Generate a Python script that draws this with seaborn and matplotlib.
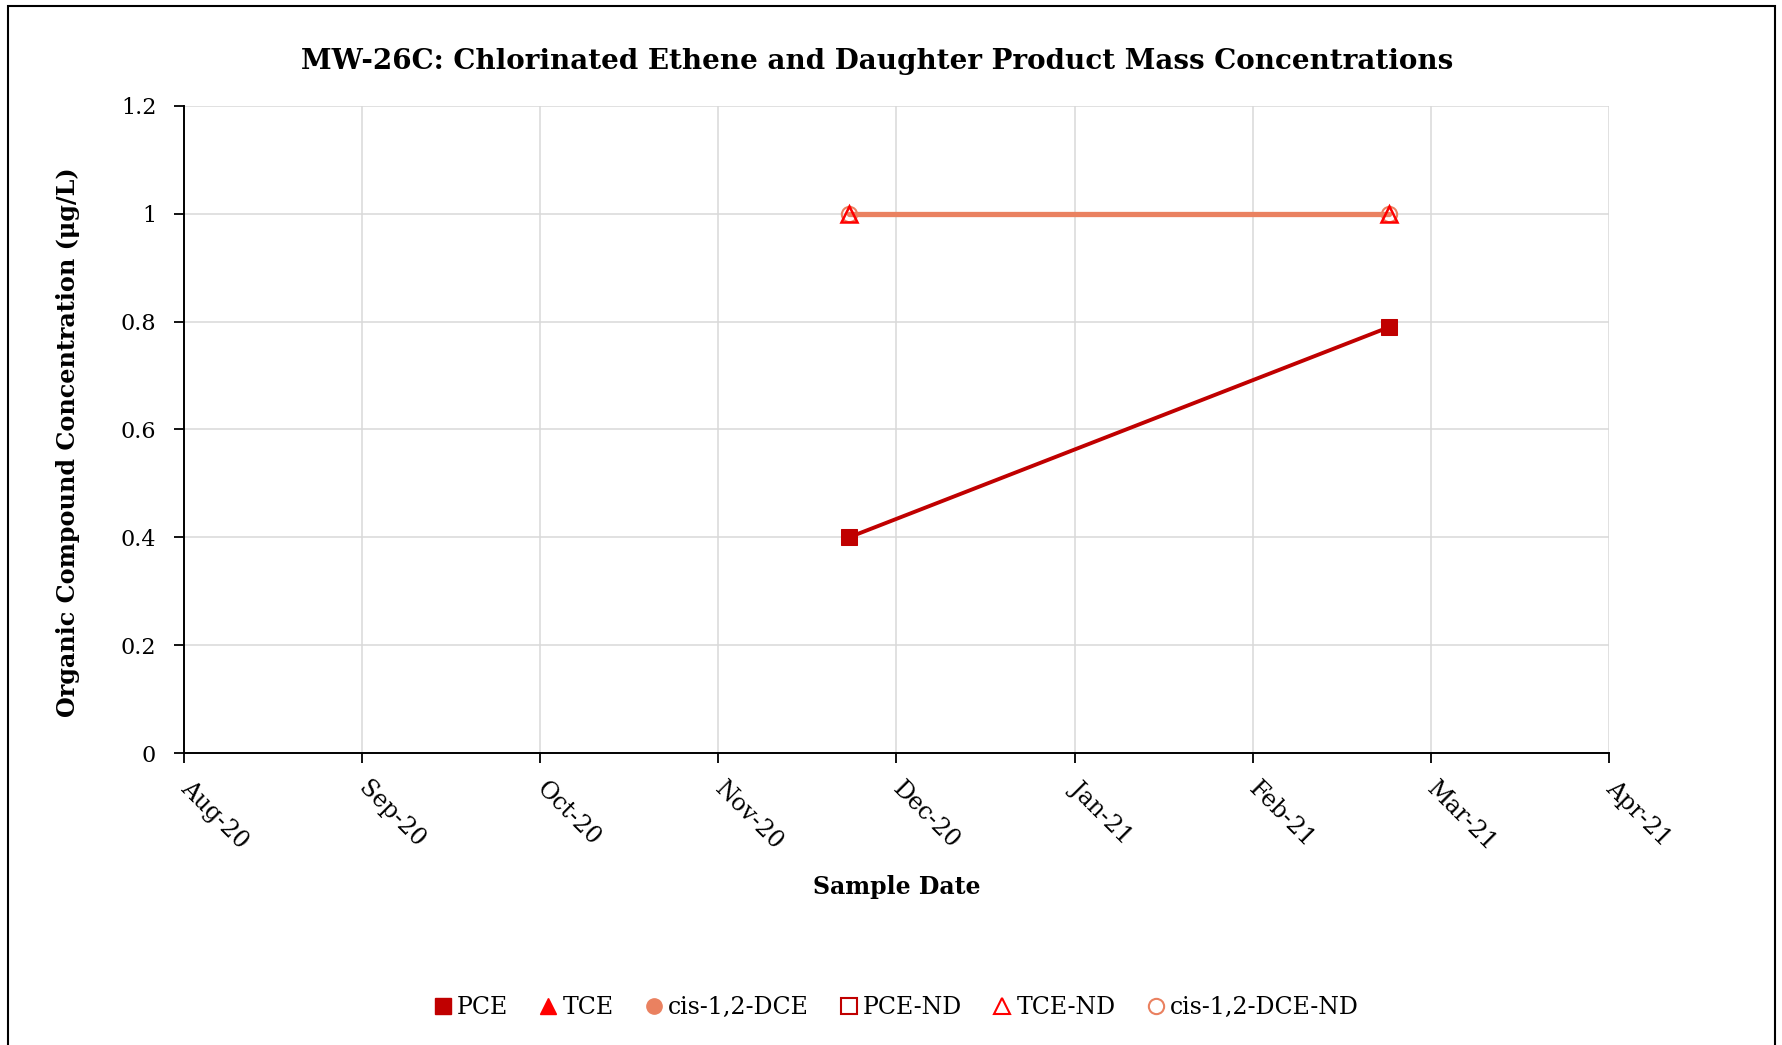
import matplotlib
matplotlib.use("Agg")
import matplotlib.dates as mdates
import matplotlib.pyplot as plt
import pandas as pd
import seaborn as sns
from matplotlib.lines import Line2D
from matplotlib.patches import Rectangle

# ---------------------------------------------------------------------------
# data
# ---------------------------------------------------------------------------
sample_dates = ["2020-11-30", "2021-03-01"]
pce = [0.40, 0.79]
tce_nd = [1.0, 1.0]
dce_nd = [1.0, 1.0]

axis_start = "2020-08-10"      # Excel date axis, major unit 30 days
axis_step_days = 30
n_xticks = 9
y_ticks = [0, 0.2, 0.4, 0.6, 0.8, 1.0, 1.2]
y_tick_labels = ["0", "0.2", "0.4", "0.6", "0.8", "1", "1.2"]

legend_labels = ["PCE", "TCE", "cis-1,2-DCE", "PCE-ND", "TCE-ND", "cis-1,2-DCE-ND"]

C_PCE = "#C00000"
C_TCE = "#FF0000"
C_DCE = "#EA8160"

sns.set_theme(style="whitegrid")
plt.rcParams["font.family"] = ["DejaVu Serif", "DejaVu Sans"]
plt.rcParams["text.color"] = "black"

df = pd.DataFrame({
    "date": pd.to_datetime(sample_dates),
    "PCE": pce,
    "TCE-ND": tce_nd,
    "cis-1,2-DCE-ND": dce_nd,
})

fig = plt.figure(figsize=(17.83, 10.45), dpi=100)
ax = fig.add_axes([0.1032, 0.2794, 0.7992, 0.6192])

# lines
sns.lineplot(data=df, x="date", y="TCE-ND", ax=ax, color=C_TCE, lw=2, zorder=2)
sns.lineplot(data=df, x="date", y="cis-1,2-DCE-ND", ax=ax, color=C_DCE, lw=3.8,
             marker="o", markersize=11, mfc="none", mec=C_DCE, mew=1.5, zorder=3)
sns.lineplot(data=df, x="date", y="PCE", ax=ax, color=C_PCE, lw=2.8,
             marker="s", markersize=12, mfc=C_PCE, mec=C_PCE, zorder=4)
# TCE-ND markers sit on top of the orange line
sns.lineplot(data=df, x="date", y="TCE-ND", ax=ax, color=C_TCE, lw=0,
             marker="^", markersize=11, mfc="none", mec=C_TCE, mew=1.8, zorder=5)

# axes
start = pd.Timestamp(axis_start)
xticks = pd.date_range(start, periods=n_xticks, freq=f"{axis_step_days}D")
ax.set_xlim(xticks[0], xticks[-1])
ax.set_xticks(xticks)
ax.xaxis.set_major_formatter(mdates.DateFormatter("%b-%y"))
ax.set_ylim(y_ticks[0], y_ticks[-1])
ax.set_yticks(y_ticks)
ax.set_yticklabels(y_tick_labels)
ax.set_xlabel("")
ax.set_ylabel("")

ax.grid(True, color="#D9D9D9", lw=1.1)
ax.set_axisbelow(True)
for side in ["top", "right"]:
    ax.spines[side].set_visible(False)
for side in ["left", "bottom"]:
    ax.spines[side].set_color("black")
    ax.spines[side].set_linewidth(1.4)

ax.tick_params(axis="both", bottom=True, left=True, direction="out",
               length=7, width=1.3, color="black", labelcolor="black")
ax.tick_params(axis="y", pad=13, labelsize=16)
ax.tick_params(axis="x", pad=16, labelsize=17)
for lbl in ax.get_xticklabels():
    lbl.set_rotation(-45)
    lbl.set_ha("left")
    lbl.set_va("center")
    lbl.set_rotation_mode("anchor")

# texts
fig.text(0.4917, 0.9407,
         "MW-26C: Chlorinated Ethene and Daughter Product Mass Concentrations",
         ha="center", va="center", fontsize=20, fontweight="bold")
fig.text(0.038, 0.577, "Organic Compound Concentration (\u03bcg/L)",
         rotation=90, ha="center", va="center", fontsize=17.2, fontweight="bold")
fig.text(0.503, 0.151, "Sample Date", ha="center", va="center",
         fontsize=17, fontweight="bold")

# legend
handles = [
    Line2D([], [], ls="", marker="s", ms=11, mfc=C_PCE, mec=C_PCE),
    Line2D([], [], ls="", marker="^", ms=11, mfc=C_TCE, mec=C_TCE),
    Line2D([], [], ls="", marker="o", ms=11, mfc=C_DCE, mec=C_DCE),
    Line2D([], [], ls="", marker="s", ms=11, mfc="none", mec=C_PCE, mew=1.5),
    Line2D([], [], ls="", marker="^", ms=11, mfc="none", mec=C_TCE, mew=1.5),
    Line2D([], [], ls="", marker="o", ms=11, mfc="none", mec=C_DCE, mew=1.5),
]
fig.legend(handles, legend_labels, loc="center", bbox_to_anchor=(0.5026, 0.036),
           ncol=6, frameon=False, fontsize=17, handlelength=0.8,
           handletextpad=0.2, columnspacing=1.3)

# outer chart frame
fig.patches.append(Rectangle((0.0045, -0.02), 0.991, 1.0143,
                             transform=fig.transFigure, fill=False,
                             ec="black", lw=1.5))

fig.savefig("out.png", dpi=100)
plt.close(fig)
